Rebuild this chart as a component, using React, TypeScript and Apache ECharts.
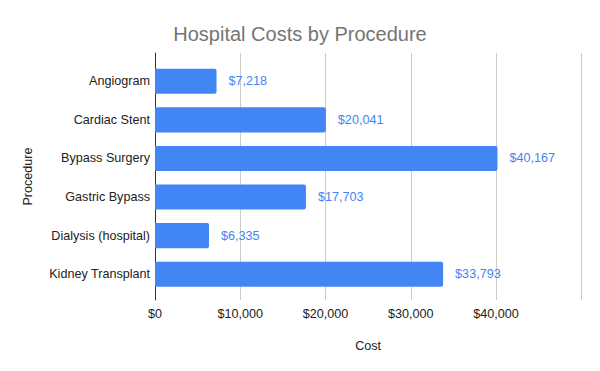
import React, { useEffect, useRef } from "react";
import * as echarts from "echarts";

const categories = [
  "Angiogram",
  "Cardiac Stent",
  "Bypass Surgery",
  "Gastric Bypass",
  "Dialysis (hospital)",
  "Kidney Transplant",
];
const costs = [7218, 20041, 40167, 17703, 6335, 33793];
const axisMax = 50000;
const axisInterval = 10000;

const FONT = "'Liberation Sans', Arial, sans-serif";
const FS = 12.6;
const money = (v: number) => "$" + Number(v).toLocaleString("en-US");

export default function App() {
  const ref = useRef<HTMLDivElement>(null);
  useEffect(() => {
    if (!ref.current) return;
    const chart = echarts.init(ref.current, null, { renderer: "svg" });
    chart.setOption({
      animation: false,
      backgroundColor: "#ffffff",
      textStyle: { fontFamily: FONT },
      title: {
        text: "Hospital Costs by Procedure",
        left: "center",
        top: 19,
        textStyle: { fontFamily: FONT, fontSize: 20, fontWeight: "normal", color: "#757575" },
      },
      grid: [
        { left: 155, right: 18.7, top: 53, bottom: 71 },
        { left: 155, right: 18.7, top: 62, bottom: 77.5 },
      ],
      xAxis: [
        {
          type: "value",
          gridIndex: 0,
          min: 0,
          max: axisMax,
          interval: axisInterval,
          axisLine: { show: false },
          axisTick: { show: false },
          splitLine: { show: true, lineStyle: { color: "#cccccc", width: 1 } },
          axisLabel: {
            fontFamily: FONT,
            fontSize: FS,
            color: "#222222",
            margin: 7,
            formatter: (v: number) => (v >= axisMax ? "" : money(v)),
          },
          name: "Cost",
          nameLocation: "middle",
          nameGap: 39,
          nameTextStyle: { fontFamily: FONT, fontSize: FS, color: "#222222" },
        },
        {
          type: "value",
          gridIndex: 1,
          min: 0,
          max: axisMax,
          interval: axisInterval,
          show: false,
        },
      ],
      yAxis: [
        {
          type: "category",
          gridIndex: 0,
          data: categories,
          inverse: true,
          axisLine: { show: true, lineStyle: { color: "#333333", width: 1 } },
          axisTick: { show: false },
          axisLabel: { show: false },
          splitLine: { show: false },
          name: "Procedure",
          nameLocation: "middle",
          nameGap: 121,
          nameTextStyle: { fontFamily: FONT, fontSize: FS, color: "#222222" },
        },
        {
          type: "category",
          gridIndex: 1,
          data: categories,
          inverse: true,
          axisLine: { show: false },
          axisTick: { show: false },
          splitLine: { show: false },
          axisLabel: { fontFamily: FONT, fontSize: FS, color: "#222222", margin: 5 },
        },
      ],
      series: [
        {
          type: "bar",
          xAxisIndex: 1,
          yAxisIndex: 1,
          data: costs,
          barWidth: "65%",
          itemStyle: { color: "#4285F4", borderRadius: [0, 2, 2, 0] },
          label: {
            show: true,
            position: "right",
            distance: 12,
            fontFamily: FONT,
            fontSize: FS,
            color: "#4285F4",
            formatter: (p: any) => money(p.value),
          },
        },
      ],
    });
    return () => chart.dispose();
  }, []);
  return <div ref={ref} style={{ width: 600, height: 371, margin: -8 }} />;
}
